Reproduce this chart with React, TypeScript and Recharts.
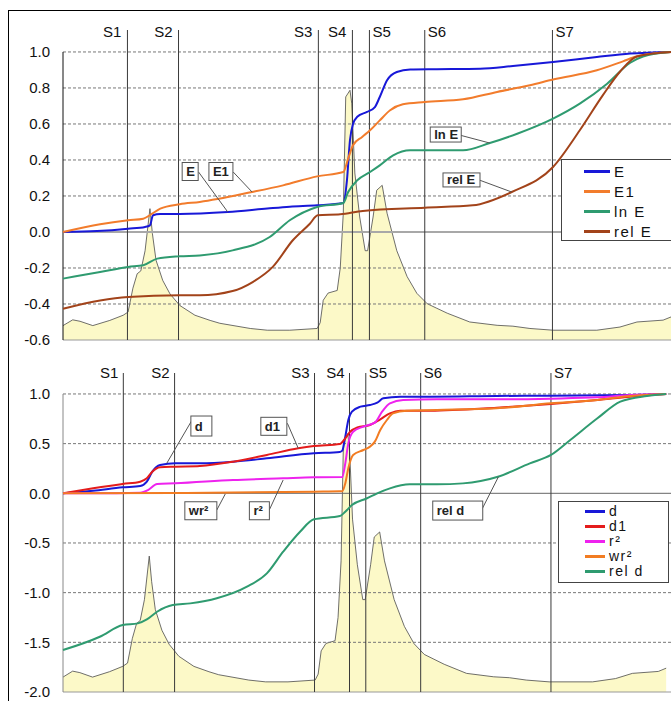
import React from 'react';
import {
  ComposedChart, Line, Area, XAxis, YAxis, ReferenceLine, ReferenceDot, Legend,
} from 'recharts';

const FONT = '"Liberation Sans", Arial, sans-serif';

// spectrum profile, as a fraction of the labelled value span (shared by both panels)
const specX = [0, 1.6, 2.8, 4.9, 7.7, 9.9, 10.7, 11.5, 12.2, 12.8, 13.5, 14.3, 14.7, 15.3, 16.4, 17.6, 19.2, 21.7, 24.2, 25.8, 30.8, 33.6, 37.3, 41.8, 42.3, 42.8, 43.6, 45.1, 45.6, 46.1, 46.5, 47.2, 47.5, 48.0, 48.8, 49.7, 50.1, 51.0, 51.6, 52.5, 53.3, 54.9, 56.6, 58.2, 59.9, 61.5, 63.2, 66.9, 71.4, 74.0, 76.8, 80.6, 87.8, 91.6, 94.4, 98.7, 100];
const specV = [0.05, 0.07, 0.065, 0.05, 0.068, 0.086, 0.097, 0.18, 0.23, 0.24, 0.31, 0.456, 0.37, 0.277, 0.207, 0.16, 0.12, 0.086, 0.068, 0.058, 0.04, 0.034, 0.034, 0.04, 0.06, 0.138, 0.163, 0.172, 0.25, 0.44, 0.844, 0.867, 0.82, 0.58, 0.427, 0.31, 0.31, 0.427, 0.52, 0.537, 0.44, 0.31, 0.22, 0.162, 0.126, 0.11, 0.093, 0.0625, 0.051, 0.048, 0.04, 0.034, 0.034, 0.045, 0.0625, 0.069, 0.08];

const stageNames = ['S1', 'S2', 'S3', 'S4', 'S5', 'S6', 'S7'];
// which side of its line each stage name sits on
const stageSide = ['left', 'left', 'left', 'left', 'right', 'right', 'right'];

// ---- top panel ----
const topTicks = [-0.6, -0.4, -0.2, 0, 0.2, 0.4, 0.6, 0.8, 1.0];
const topStages = [10.6, 19.0, 42.0, 47.6, 50.4, 59.5, 80.5];

const eX = [0, 5.6, 10.7, 13.5, 14.3, 14.8, 16.0, 19.2, 27.1, 33.6, 37.3, 41.8, 46.1, 46.7, 47.2, 47.7, 48.4, 50.0, 51.3, 52.1, 53.3, 54.9, 57.1, 61.5, 68.6, 74.0, 80.6, 87.8, 93.3, 100];
const eY = [0, 0.005, 0.018, 0.028, 0.037, 0.093, 0.10, 0.10, 0.111, 0.13, 0.14, 0.148, 0.161, 0.287, 0.51, 0.60, 0.64, 0.667, 0.694, 0.75, 0.843, 0.889, 0.902, 0.904, 0.907, 0.922, 0.944, 0.972, 0.991, 1.0];

const e1X = [0, 6.1, 10.7, 13.2, 14.6, 16.0, 19.2, 22.5, 31.1, 36.2, 41.8, 46.1, 46.9, 47.7, 49.2, 50.5, 52.1, 53.8, 55.9, 59.5, 65.8, 71.4, 76.8, 80.6, 87.8, 92.1, 94.4, 100];
const e1Y = [0, 0.043, 0.065, 0.074, 0.10, 0.13, 0.154, 0.167, 0.222, 0.259, 0.309, 0.333, 0.408, 0.482, 0.528, 0.565, 0.62, 0.676, 0.709, 0.722, 0.737, 0.778, 0.815, 0.847, 0.898, 0.948, 0.976, 1.0];

const lnX = [0, 6.1, 10.7, 13.2, 15.5, 19.2, 22.5, 27.9, 34.0, 37.3, 41.8, 46.1, 46.9, 48.4, 50.5, 52.1, 54.3, 57.1, 61.5, 65.8, 70.2, 74.7, 80.6, 85.0, 89.5, 93.3, 95.4, 100];
const lnY = [-0.259, -0.222, -0.194, -0.185, -0.148, -0.135, -0.13, -0.102, -0.028, 0.065, 0.139, 0.161, 0.222, 0.287, 0.333, 0.37, 0.426, 0.454, 0.454, 0.454, 0.494, 0.546, 0.63, 0.713, 0.824, 0.94, 0.975, 1.0];

const relEX = [0, 6.1, 10.7, 19.2, 22.5, 27.9, 31.2, 34.5, 37.8, 40.6, 41.9, 45.6, 49.3, 59.5, 67.4, 73.8, 80.6, 85.0, 88.8, 91.6, 94.4, 100];
const relEY = [-0.426, -0.38, -0.361, -0.352, -0.352, -0.328, -0.278, -0.194, -0.046, 0.046, 0.093, 0.098, 0.117, 0.135, 0.148, 0.222, 0.361, 0.565, 0.76, 0.89, 0.975, 1.0];

// ---- bottom panel ----
const bottomTicks = [-2.0, -1.5, -1.0, -0.5, 0, 0.5, 1.0];
const bottomStages = [10.0, 18.5, 41.7, 47.5, 50.2, 59.3, 80.9];

const dX = [0, 5.0, 9.9, 12.8, 13.9, 14.8, 16.1, 18.6, 22.7, 28.2, 33.8, 41.6, 45.9, 46.3, 46.8, 47.3, 47.9, 49.3, 50.9, 52.1, 53.1, 55.9, 60.9, 71.9, 80.9, 94.0, 100];
const dY = [0, 0.026, 0.06, 0.073, 0.117, 0.218, 0.285, 0.302, 0.302, 0.318, 0.352, 0.403, 0.416, 0.429, 0.57, 0.738, 0.822, 0.872, 0.889, 0.912, 0.956, 0.973, 0.973, 0.98, 0.983, 0.99, 1.0];

const d1X = [0, 5.0, 9.9, 12.8, 13.9, 14.8, 16.1, 18.6, 22.7, 28.2, 33.8, 39.0, 41.6, 45.9, 46.8, 47.6, 48.8, 50.9, 52.6, 54.2, 55.9, 60.9, 71.9, 80.9, 88.6, 94.0, 100];
const d1Y = [0, 0.05, 0.094, 0.117, 0.151, 0.218, 0.262, 0.268, 0.275, 0.318, 0.386, 0.453, 0.476, 0.496, 0.554, 0.62, 0.664, 0.688, 0.745, 0.805, 0.832, 0.832, 0.862, 0.899, 0.94, 0.973, 1.0];

const r2X = [0, 5.0, 12.8, 14.1, 15.6, 18.6, 28.2, 36.5, 41.6, 46.3, 46.8, 47.3, 48.1, 49.8, 51.7, 52.9, 54.2, 56.4, 62.0, 71.9, 80.9, 88.6, 94.0, 100];
const r2Y = [0, 0, 0.006, 0.033, 0.094, 0.10, 0.134, 0.151, 0.161, 0.163, 0.302, 0.503, 0.62, 0.671, 0.711, 0.822, 0.906, 0.94, 0.946, 0.946, 0.953, 0.966, 0.99, 1.0];

const wrX = [0, 18.6, 41.6, 45.9, 46.3, 46.8, 47.3, 48.1, 49.8, 50.9, 51.7, 52.6, 53.7, 54.7, 57.0, 62.0, 71.9, 80.9, 88.6, 94.0, 100];
const wrY = [0, 0.003, 0.016, 0.02, 0.02, 0.1, 0.252, 0.386, 0.436, 0.47, 0.52, 0.637, 0.738, 0.805, 0.832, 0.839, 0.856, 0.906, 0.94, 0.98, 1.0];

const relDX = [0, 6.1, 9.9, 12.4, 13.9, 15.6, 18.2, 21.1, 25.5, 30.5, 33.8, 36.5, 39.3, 41.6, 45.9, 46.8, 47.9, 50.4, 52.1, 54.2, 57.5, 62.0, 66.3, 72.1, 77.4, 80.9, 84.1, 88.6, 92.4, 96.8, 100];
const relDY = [-1.578, -1.444, -1.326, -1.309, -1.269, -1.192, -1.125, -1.108, -1.057, -0.94, -0.806, -0.588, -0.387, -0.262, -0.229, -0.185, -0.118, -0.05, 0, 0.05, 0.09, 0.09, 0.1, 0.167, 0.302, 0.386, 0.537, 0.755, 0.923, 0.98, 1.0];

const toPts = (xs: number[], ys: number[]) => xs.map((x, i) => ({ x, y: ys[i] }));
const spectrum = specX.map((x, i) => ({ x, s: specV[i] }));

interface Series { name: string; color: string; data: { x: number; y: number }[]; }

const topSeries: Series[] = [
  { name: 'E', color: '#1818d8', data: toPts(eX, eY) },
  { name: 'E1', color: '#f27c2c', data: toPts(e1X, e1Y) },
  { name: 'ln E', color: '#2f9b70', data: toPts(lnX, lnY) },
  { name: 'rel E', color: '#a2431a', data: toPts(relEX, relEY) },
];

const bottomSeries: Series[] = [
  { name: 'd', color: '#1818d8', data: toPts(dX, dY) },
  { name: 'd1', color: '#e41c1c', data: toPts(d1X, d1Y) },
  { name: 'r²', color: '#ee22ee', data: toPts(r2X, r2Y) },
  { name: 'wr²', color: '#f27c22', data: toPts(wrX, wrY) },
  { name: 'rel d', color: '#2f9b70', data: toPts(relDX, relDY) },
];

// callout boxes: top-left corner (data coords), size, and leader line
interface Callout { text: string; x: number; y: number; w: number; h: number; from: [number, number]; to: [number, number]; }

const topCallouts: Callout[] = [
  { text: 'E', x: 19.6, y: 0.386, w: 16, h: 18, from: [22.3, 0.333], to: [27.1, 0.111] },
  { text: 'E1', x: 24.0, y: 0.386, w: 24, h: 18, from: [28.0, 0.333], to: [31.1, 0.222] },
  { text: 'ln E', x: 60.4, y: 0.583, w: 31, h: 15, from: [65.4, 0.537], to: [70.2, 0.494] },
  { text: 'rel E', x: 62.5, y: 0.328, w: 37, h: 14, from: [68.6, 0.287], to: [73.8, 0.222] },
];

const bottomCallouts: Callout[] = [
  { text: 'd', x: 21.2, y: 0.778, w: 21, h: 20, from: [21.4, 0.738], to: [17.2, 0.302] },
  { text: 'd1', x: 32.8, y: 0.765, w: 26, h: 18, from: [37.2, 0.705], to: [39.0, 0.453] },
  { text: 'wr²', x: 20.2, y: -0.085, w: 32, h: 18, from: [25.5, -0.168], to: [26.9, -0.007] },
  { text: 'r²', x: 30.9, y: -0.085, w: 20, h: 18, from: [34.2, -0.168], to: [36.5, 0.134] },
  { text: 'rel d', x: 61.3, y: -0.078, w: 50, h: 19, from: [69.4, -0.168], to: [72.2, 0.167] },
];

const stageLabel = (name: string, side: string, dy: number, gap: number) => (props: any) => {
  const vb = props.viewBox || {};
  const left = side === 'left';
  return (
    <text
      x={left ? vb.x - gap : vb.x + 3}
      y={vb.y + dy}
      textAnchor={left ? 'end' : 'start'}
      fontSize={15}
      fill="#111"
    >
      {name}
    </text>
  );
};

const calloutShape = (c: Callout) => (p: any) => (
  <g>
    <rect x={p.cx} y={p.cy} width={c.w} height={c.h} fill="#fff" stroke="#555" strokeWidth={1} />
    <text x={p.cx + 4} y={p.cy + c.h / 2 + 4.5} fontSize={13} fontWeight="bold" fill="#222">{c.text}</text>
  </g>
);

interface LegendBoxProps {
  items: Series[]; width: number; height: number; rowH: number; padTop: number;
  sampleLeft: number; sampleW: number; fontSize: number;
}

const LegendBox = ({ items, width, height, rowH, padTop, sampleLeft, sampleW, fontSize }: LegendBoxProps) => (
  <div style={{
    width, height, boxSizing: 'border-box', border: '1px solid #444', background: '#fff',
    paddingTop: padTop, fontFamily: FONT, fontSize, color: '#111',
  }}>
    {items.map((s) => (
      <div key={s.name} style={{ display: 'flex', alignItems: 'center', height: rowH }}>
        <span style={{ marginLeft: sampleLeft, width: sampleW, height: 2.5, background: s.color, display: 'inline-block' }} />
        <span style={{ marginLeft: 4, letterSpacing: 1.5, lineHeight: `${rowH}px`, whiteSpace: 'nowrap' }}>{s.name}</span>
      </div>
    ))}
  </div>
);

interface PanelProps {
  height: number;
  margin: { top: number; right: number; bottom: number; left: number };
  yDomain: [number, number];
  xMax: number;
  ticks: number[];
  stages: number[];
  stageDy: number;
  stageGap: number;
  series: Series[];
  callouts: Callout[];
  zeroStroke: string;
  zeroWidth: number;
  axisStroke: string;
  legend: { left: number; top: number; width: number; height: number; rowH: number; padTop: number; sampleLeft: number; sampleW: number; fontSize: number };
}

const Panel = (p: PanelProps) => {
  const yMin = p.yDomain[0];
  const specTop = (p.yDomain[1] - yMin) / (1 - yMin);
  return (
    <ComposedChart width={662} height={p.height} margin={p.margin}>
      <XAxis type="number" dataKey="x" domain={[0, p.xMax]} hide />
      <YAxis
        type="number"
        domain={p.yDomain}
        ticks={p.ticks}
        interval={0}
        allowDataOverflow
        width={54}
        axisLine={false}
        tickLine={false}
        tickMargin={7}
        tick={{ fontSize: 15, fill: '#111' }}
        tickFormatter={(v: number) => v.toFixed(1)}
      />
      <YAxis yAxisId="spec" type="number" domain={[0, specTop]} hide />

      <Area
        yAxisId="spec"
        data={spectrum}
        dataKey="s"
        type="linear"
        baseValue={0}
        stroke="#4a4a4a"
        strokeWidth={0.8}
        fill="#fcf9c8"
        fillOpacity={1}
        legendType="none"
        isAnimationActive={false}
      />

      {p.ticks.filter((t) => t !== 0 && t !== yMin).map((t) => (
        <ReferenceLine key={`g${t}`} y={t} stroke="#777" strokeDasharray="3 2" />
      ))}
      <ReferenceLine y={0} stroke={p.zeroStroke} strokeWidth={p.zeroWidth} />
      <ReferenceLine y={yMin} stroke="#999" />
      <ReferenceLine segment={[{ x: 0, y: yMin }, { x: 0, y: 1 }]} stroke={p.axisStroke} />

      {p.stages.map((x, i) => (
        <ReferenceLine
          key={stageNames[i]}
          x={x}
          stroke="#3a3a3a"
          label={stageLabel(stageNames[i], stageSide[i], p.stageDy, p.stageGap)}
        />
      ))}

      {p.series.map((s) => (
        <Line
          key={s.name}
          data={s.data}
          dataKey="y"
          name={s.name}
          type="monotone"
          stroke={s.color}
          strokeWidth={2}
          dot={false}
          activeDot={false}
          isAnimationActive={false}
        />
      ))}

      {p.callouts.map((c) => (
        <ReferenceLine
          key={`l${c.text}`}
          segment={[{ x: c.from[0], y: c.from[1] }, { x: c.to[0], y: c.to[1] }]}
          stroke="#555"
        />
      ))}
      {p.callouts.map((c) => (
        <ReferenceDot key={`c${c.text}`} x={c.x} y={c.y} r={1} shape={calloutShape(c)} />
      ))}

      <Legend
        layout="vertical"
        align="center"
        verticalAlign="middle"
        width={p.legend.width}
        wrapperStyle={{ left: p.legend.left, top: p.legend.top, width: p.legend.width }}
        content={() => (
          <LegendBox
            items={p.series}
            width={p.legend.width}
            height={p.legend.height}
            rowH={p.legend.rowH}
            padTop={p.legend.padTop}
            sampleLeft={p.legend.sampleLeft}
            sampleW={p.legend.sampleW}
            fontSize={p.legend.fontSize}
          />
        )}
      />
    </ComposedChart>
  );
};

export default function App() {
  return (
    <div style={{
      position: 'absolute', left: 8, top: 10, width: 662, height: 690,
      borderTop: '1px solid #000', borderLeft: '1px solid #000',
      overflow: 'hidden', background: '#fff', fontFamily: FONT,
    }}>
      <Panel
        height={340}
        margin={{ top: 19, right: 0, bottom: 11, left: 0 }}
        yDomain={[-0.6, 1.122]}
        xMax={100}
        ticks={topTicks}
        stages={topStages}
        stageDy={7}
        stageGap={6}
        series={topSeries}
        callouts={topCallouts}
        zeroStroke="#a8a8a8"
        zeroWidth={2}
        axisStroke="#111"
        legend={{ left: 551.7, top: 148.3, width: 125, height: 81.4, rowH: 20, padTop: 1.4, sampleLeft: 22.3, sampleW: 26, fontSize: 15 }}
      />
      <Panel
        height={349}
        margin={{ top: 22, right: 0, bottom: 8, left: 0 }}
        yDomain={[-2, 1.211]}
        xMax={100.8}
        ticks={bottomTicks}
        stages={bottomStages}
        stageDy={4.5}
        stageGap={5}
        series={bottomSeries}
        callouts={bottomCallouts}
        zeroStroke="#666"
        zeroWidth={1}
        axisStroke="#888"
        legend={{ left: 549.3, top: 149.7, width: 110.7, height: 82, rowH: 15, padTop: 2.5, sampleLeft: 25.7, sampleW: 20, fontSize: 14 }}
      />
    </div>
  );
}
